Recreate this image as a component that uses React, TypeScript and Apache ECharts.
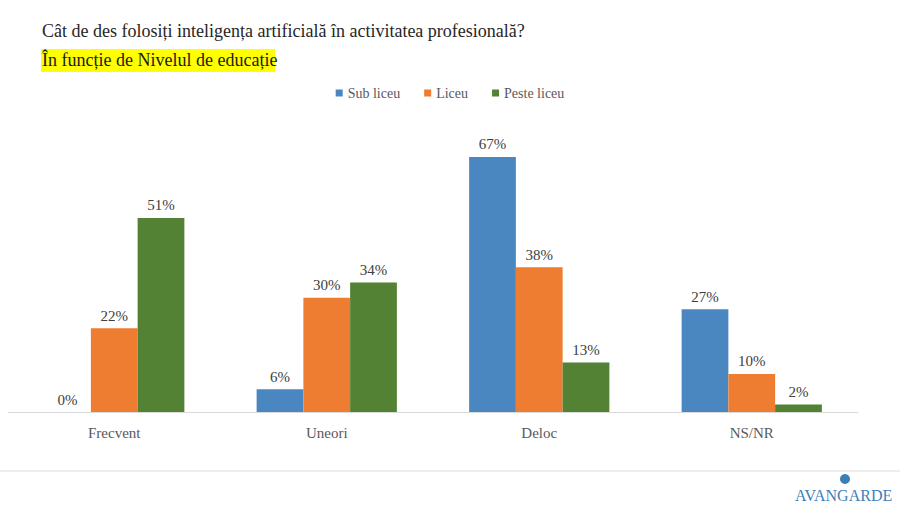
import React, { useEffect, useRef } from "react";
import * as echarts from "echarts";

const categories = ["Frecvent", "Uneori", "Deloc", "NS/NR"];
const seriesNames = ["Sub liceu", "Liceu", "Peste liceu"];
const subLiceu = [0, 6, 67, 27];
const liceu = [22, 30, 38, 10];
const pesteLiceu = [51, 34, 13, 2];
const colors = ["#4A86C0", "#EE7D31", "#538234"];

const FONT = "'Liberation Serif', 'DejaVu Serif', serif";

export default function App() {
  const ref = useRef<HTMLDivElement>(null);
  useEffect(() => {
    document.body.style.margin = "0";
    if (!ref.current) return;
    const chart = echarts.init(ref.current, null, { renderer: "svg" });
    const data = [subLiceu, liceu, pesteLiceu];
    chart.setOption({
      animation: false,
      backgroundColor: "#ffffff",
      textStyle: { fontFamily: FONT },
      legend: {
        top: 81,
        left: "center",
        itemWidth: 7,
        itemHeight: 7,
        itemGap: 24,
        icon: "rect",
        textStyle: { fontFamily: FONT, fontSize: 14, color: "#595959" },
        data: seriesNames,
      },
      grid: { left: 8, right: 42, top: 107.5, bottom: 94 },
      xAxis: {
        type: "category",
        data: categories,
        axisLine: { lineStyle: { color: "#D9D9D9", width: 1 } },
        axisTick: { show: false },
        axisLabel: { fontFamily: FONT, fontSize: 15, color: "#595959", margin: 13 },
      },
      yAxis: {
        type: "value",
        min: 0,
        max: 80,
        show: false,
        splitLine: { show: false },
      },
      series: seriesNames.map((name, i) => ({
        name,
        type: "bar",
        data: data[i],
        barGap: "0%",
        barCategoryGap: "34%",
        itemStyle: { color: colors[i] },
        label: {
          show: true,
          position: "top",
          distance: 5,
          formatter: "{c}%",
          fontFamily: FONT,
          fontSize: 15,
          color: "#404040",
        },
      })),
      graphic: [
        {
          type: "text",
          left: 42,
          top: 22,
          style: {
            text: "Cât de des folosiți inteligența artificială în activitatea profesională?",
            fontFamily: FONT,
            fontSize: 18,
            fill: "#262626",
          },
        },
        {
          type: "rect",
          shape: { x: 41, y: 49, width: 234, height: 23 },
          style: { fill: "#FFFF00" },
        },
        {
          type: "text",
          left: 42,
          top: 51,
          style: {
            text: "În funcție de Nivelul de educație",
            fontFamily: FONT,
            fontSize: 18,
            fill: "#1a1a1a",
          },
        },
        {
          type: "line",
          shape: { x1: 0, y1: 471, x2: 900, y2: 471 },
          style: { stroke: "#DCDCDC", lineWidth: 1 },
        },
        {
          type: "circle",
          shape: { cx: 845, cy: 479, r: 5 },
          style: { fill: "#3C7FB8" },
        },
        {
          type: "text",
          left: 795,
          top: 487,
          style: {
            text: "AVANGARDE",
            fontFamily: FONT,
            fontSize: 16,
            fill: "#3C7FB8",
          },
        },
      ],
    });
    return () => chart.dispose();
  }, []);
  return <div ref={ref} style={{ width: 900, height: 506 }} />;
}
